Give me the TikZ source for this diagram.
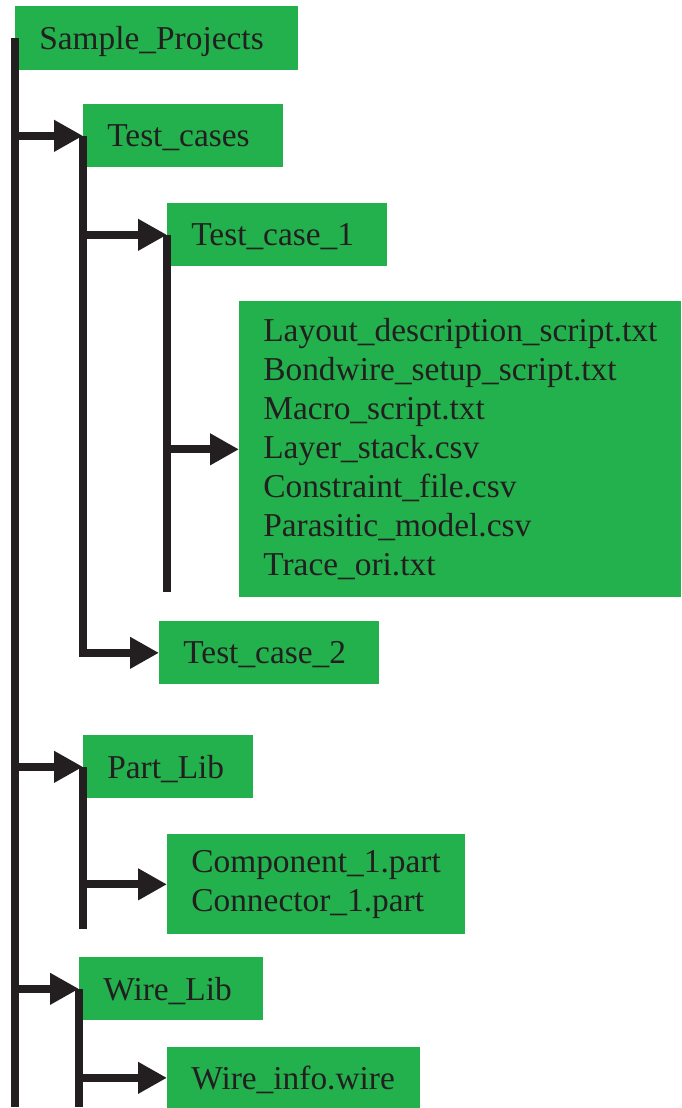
\documentclass[tikz,border=0pt]{standalone}
\usepackage{fontspec}
\setmainfont{Liberation Serif}
\usepackage{tikz}
\usetikzlibrary{arrows.meta}
\definecolor{carpeta}{HTML}{22B14C}
\definecolor{tinta}{HTML}{231F20}

\begin{document}
\begin{tikzpicture}[
  x=0.02cm, y=-0.02cm,
  font=\fontsize{19}{22.2}\selectfont,
  dir/.style={fill=carpeta, text=tinta, anchor=north west, inner xsep=4.8mm, inner ysep=0pt, minimum height=12.6mm, align=left},
  unalinea/.style={dir, text depth=0pt},
  rama/.style={draw=tinta, line width=4.55pt},
  flecha/.style={rama, -{Triangle[length=5.8mm, width=6mm]}}]
  \useasboundingbox (0,0) rectangle (681,1108);
  % carpetas y ficheros
  \node[unalinea, text width=47mm, minimum height=12.8mm] (raiz) at (15,6) {Sample\_Projects};
  \node[unalinea, text width=30.4mm] (casos) at (83,104) {Test\_cases};
  \node[unalinea, text width=34.4mm] (caso1) at (167,203) {Test\_case\_1};
  \node[dir, text width=78.8mm, minimum height=59.2mm] (scripts) at (239,301)
    {Layout\_description\_script.txt\\Bondwire\_setup\_script.txt\\Macro\_script.txt\\Layer\_stack.csv\\Constraint\_file.csv\\Parasitic\_model.csv\\Trace\_ori.txt};
  \node[unalinea, text width=34.4mm] (caso2) at (159,621) {Test\_case\_2};
  \node[unalinea, text width=24.4mm] (partes) at (83,735) {Part\_Lib};
  \node[dir, text width=50mm, minimum height=20mm] (piezas) at (167,834) {Component\_1.part\\Connector\_1.part};
  \node[unalinea, text width=27.2mm] (cables) at (79,957) {Wire\_Lib};
  \node[unalinea, text width=41mm, minimum height=12.2mm] (info) at (167,1047) {Wire\_info.wire};
  % extremos libres de las ramas
  \coordinate (finRaiz) at (raiz.west |- 0,1107);
  \coordinate (finCaso1) at (caso1.west |- 0,592);
  \coordinate (finPartes) at (partes.west |- 0,929);
  \coordinate (finCables) at (cables.west |- 0,1107);
  % tronco
  \draw[rama] (raiz.west) -- (finRaiz);
  \draw[flecha] (raiz.west |- casos.west) -- (casos.west);
  \draw[flecha] (raiz.west |- partes.west) -- (partes.west);
  \draw[flecha] (raiz.west |- cables.west) -- (cables.west);
  % Test_cases
  \draw[flecha] (casos.west) |- (caso2.west);
  \draw[flecha] (casos.west |- caso1.west) -- (caso1.west);
  \draw[rama] (caso1.west) -- (finCaso1);
  \draw[flecha] (caso1.west |- scripts.west) -- (scripts.west);
  % Part_Lib
  \draw[rama] (partes.west) -- (finPartes);
  \draw[flecha] (partes.west |- piezas.west) -- (piezas.west);
  % Wire_Lib
  \draw[rama] (cables.west) -- (finCables);
  \draw[flecha] (cables.west |- info.west) -- (info.west);
\end{tikzpicture}
\end{document}
